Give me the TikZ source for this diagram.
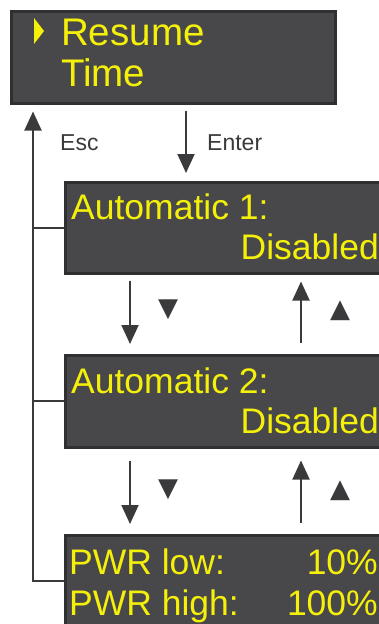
\documentclass[tikz,border=0pt]{standalone}
\usepackage{fontspec}
\setmainfont{Liberation Sans}
\newfontfamily\symfont{DejaVu Sans}
\usetikzlibrary{arrows.meta}

\definecolor{lcdfill}{RGB}{72,72,75}
\definecolor{lcdframe}{RGB}{48,48,50}
\definecolor{lcdyellow}{RGB}{245,240,10}
\definecolor{ink}{RGB}{58,58,60}

\begin{document}
\begin{tikzpicture}[x=1pt,y=1pt,yscale=-1,xscale=1,
  lcdbox/.style={rectangle, draw=lcdframe, line width=2.5pt, fill=lcdfill, anchor=north west, inner sep=0pt},
  lcdline/.style={text=lcdyellow, inner sep=0pt, font=\fontsize{35.5}{40}\selectfont},
  keylabel/.style={text=ink, inner sep=0pt, anchor=base west, font=\fontsize{23}{26}\selectfont},
  keysym/.style={text=ink, inner sep=0pt, font=\symfont\fontsize{26}{28}\selectfont},
  flow/.style={draw=ink, line width=1.9pt, -{Triangle[width=17pt,length=19pt]}},
  rail/.style={draw=ink, line width=1.9pt}]
\useasboundingbox (0,0) rectangle (378,624);

%Shape: Rectangle [menu screens]
\node[lcdbox, minimum width=324pt, minimum height=92pt] (resume) at (10,10) {};
\node[lcdbox, minimum width=340pt, minimum height=91pt] (auto1) at (64,181) {};
\node[lcdbox, minimum width=340pt, minimum height=92pt] (auto2) at (64,354) {};
\node[lcdbox, minimum width=340pt, minimum height=92pt] (pwr) at (64,534) {};

%Shape: Triangle [cursor]
\fill[lcdyellow] (34,18) -- (44,31) -- (34,44) -- cycle;

% Text Node
\node[lcdline, anchor=base west, font=\fontsize{38.5}{42}\selectfont] (resume-a) at (61,45) {Resume};
% Text Node
\node[lcdline, anchor=base west, font=\fontsize{38.5}{42}\selectfont] (resume-b) at (61,86) {Time};
% Text Node
\node[lcdline, anchor=base west] (auto1-a) at (71,219) {Automatic 1:};
% Text Node
\node[lcdline, anchor=base east] (auto1-b) at (379,259) {Disabled};
% Text Node
\node[lcdline, anchor=base west] (auto2-a) at (71,393) {Automatic 2:};
% Text Node
\node[lcdline, anchor=base east] (auto2-b) at (379,433) {Disabled};
% Text Node
\node[lcdline, anchor=base west] (pwr-a) at (69,574) {PWR low:};
% Text Node
\node[lcdline, anchor=base east] (pwr-b) at (378,574) {10\%};
% Text Node
\node[lcdline, anchor=base west] (pwr-c) at (69,615) {PWR high:};
% Text Node
\node[lcdline, anchor=base east] (pwr-d) at (378,615) {100\%};

%Straight Lines [x positions of the arrows]
\coordinate (railx) at (33,0);
\coordinate (enterx) at (186,0);
\coordinate (downx) at (130,0);
\coordinate (upx) at (301,0);

%Straight Lines [Esc]
\draw[flow, shorten >=7pt] (pwr.west) -| (resume.south -| railx);
\draw[rail] (auto1.west) -- (auto1.west -| railx);
\draw[rail] (auto2.west) -- (auto2.west -| railx);
%Straight Lines [Enter]
\draw[flow, shorten <=6pt, shorten >=8pt] (resume.south -| enterx) -- (auto1.north -| enterx);
%Straight Lines [down / up]
\draw[flow, shorten <=6pt, shorten >=10pt] (auto1.south -| downx) -- (auto2.north -| downx);
\draw[flow, shorten <=11pt, shorten >=7pt] (auto2.north -| upx) -- (auto1.south -| upx);
\draw[flow, shorten <=12pt, shorten >=10pt] (auto2.south -| downx) -- (pwr.north -| downx);
\draw[flow, shorten <=11pt, shorten >=12pt] (pwr.north -| upx) -- (auto2.south -| upx);

% Text Node
\node[keylabel] (esc) at (60,150) {Esc};
% Text Node
\node[keylabel] (enter) at (207,150) {Enter};
% Text Node
\node[keysym] (down1) at (168,310) {▼};
% Text Node
\node[keysym] (up1) at (340,311) {▲};
% Text Node
\node[keysym] (down2) at (168,490) {▼};
% Text Node
\node[keysym] (up2) at (340,491) {▲};

\end{tikzpicture}
\end{document}
